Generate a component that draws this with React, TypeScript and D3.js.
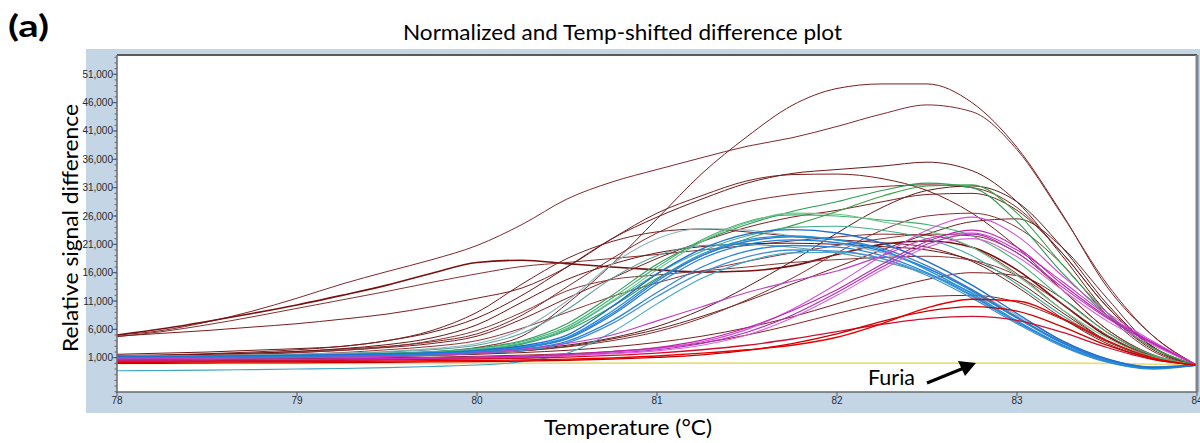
import React from "react";
import * as d3 from "d3";

// ---------- data (signal values in thousands) ----------
const temperatures = [78, 78.25, 78.5, 78.75, 79, 79.25, 79.5, 79.75, 80, 80.25, 80.5, 80.75, 81, 81.25, 81.5, 81.75, 82, 82.25, 82.5, 82.75, 83, 83.25, 83.5, 83.75, 84];
const xTickValues = [78, 79, 80, 81, 82, 83, 84];
const yTickValues = [1000, 6000, 11000, 16000, 21000, 26000, 31000, 36000, 41000, 46000, 51000];

const furia = [0, 0, 0, 0, 0, 0, 0, 0, 0, 0, 0.05, 0.05, 0.05, 0.05, 0.05, 0.05, 0.05, 0.05, 0.05, 0.05, 0.05, 0.05, 0, -0.15, -0.3];

const brown01 = [1.0, 1.05, 1.1, 1.2, 1.3, 1.4, 1.6, 2.0, 2.8, 4.8, 10.5, 17.5, 25.5, 33.5, 40.0, 45.5, 48.5, 49.3, 49.3, 46.0, 38.1, 26.4, 13.5, 5.0, -0.3];
const brown02 = [5.0, 5.8, 7.3, 9.2, 11.5, 14.0, 16.2, 18.3, 20.8, 24.5, 29.0, 32.0, 34.2, 36.3, 38.3, 39.8, 41.8, 44.0, 45.6, 44.4, 37.7, 26.2, 14.0, 5.0, -0.3];
const brown03 = [5.0, 6.1, 7.4, 8.8, 10.3, 12.0, 13.8, 15.9, 17.8, 18.2, 17.6, 17.0, 16.5, 16.1, 16.3, 17.2, 19.2, 21.0, 21.6, 20.5, 16.5, 10.5, 4.8, 1.2, -0.3];
const brown04 = [4.7, 5.6, 6.8, 8.2, 9.7, 11.2, 12.7, 14.3, 15.8, 17.1, 17.8, 18.5, 19.2, 20.0, 20.8, 21.6, 22.3, 22.8, 22.6, 20.5, 15.8, 9.5, 4.0, 1.0, -0.3];
const brown05 = [4.8, 5.3, 5.8, 6.4, 7.0, 7.8, 8.7, 10.0, 11.5, 13.3, 17.0, 22.0, 26.5, 29.6, 32.2, 33.3, 33.4, 32.6, 30.5, 26.5, 20.5, 13.0, 6.0, 1.5, -0.3];
const brown06 = [1.6, 1.8, 2.0, 2.3, 2.6, 3.0, 4.0, 5.5, 8.0, 12.0, 17.0, 22.0, 25.8, 29.0, 31.8, 33.5, 34.2, 34.8, 35.5, 34.0, 28.5, 19.0, 9.0, 2.5, -0.3];
const brown07 = [1.3, 1.4, 1.6, 1.8, 2.1, 2.5, 3.0, 3.8, 5.2, 8.5, 13.5, 18.5, 23.0, 26.3, 28.5, 29.8, 30.6, 31.2, 31.5, 31.0, 27.5, 19.5, 10.0, 3.0, -0.3];
const brown08 = [1.2, 1.3, 1.4, 1.6, 1.9, 2.3, 2.8, 3.5, 4.8, 7.8, 11.5, 15.0, 18.5, 21.5, 24.0, 25.8, 27.0, 28.5, 29.8, 30.0, 27.0, 19.5, 10.0, 3.0, -0.3];
const brown09 = [1.1, 1.2, 1.3, 1.4, 1.6, 1.9, 2.4, 3.0, 4.0, 6.2, 9.0, 11.8, 14.2, 16.3, 18.0, 19.5, 20.8, 22.0, 22.8, 22.5, 19.5, 13.0, 6.0, 1.6, -0.3];
const brown10 = [1.4, 1.5, 1.7, 2.0, 2.4, 3.0, 4.0, 5.8, 9.0, 14.0, 18.5, 21.5, 23.2, 23.7, 23.2, 22.4, 21.8, 21.3, 20.5, 18.0, 13.5, 8.0, 3.5, 0.9, -0.3];
const brown11 = [1.3, 1.4, 1.6, 1.8, 2.1, 2.6, 3.3, 4.5, 6.8, 10.8, 14.8, 17.5, 19.5, 20.6, 21.1, 21.2, 21.0, 20.6, 20.0, 18.2, 14.5, 9.0, 4.0, 1.0, -0.3];
const brown12 = [1.2, 1.3, 1.4, 1.6, 1.9, 2.3, 2.9, 4.0, 5.8, 9.0, 12.8, 14.8, 15.6, 16.3, 17.0, 17.8, 18.3, 18.7, 18.9, 18.2, 15.5, 10.5, 5.0, 1.3, -0.3];
const brown13 = [0.9, 0.95, 1.0, 1.05, 1.1, 1.2, 1.3, 1.4, 1.6, 1.9, 2.3, 2.9, 3.7, 4.8, 6.3, 8.2, 10.5, 12.8, 14.8, 16.0, 15.5, 11.5, 5.5, 1.4, -0.3];
const brown14 = [0.8, 0.85, 0.9, 0.95, 1.0, 1.1, 1.2, 1.4, 1.7, 2.2, 3.0, 4.3, 6.0, 8.3, 11.0, 14.0, 17.0, 20.0, 22.8, 25.0, 25.5, 20.5, 11.5, 3.0, -0.3];
const brown15 = [1.0, 1.0, 1.1, 1.1, 1.2, 1.3, 1.4, 1.6, 1.9, 2.4, 3.2, 4.5, 6.5, 9.5, 13.5, 18.0, 23.0, 27.5, 30.5, 31.3, 28.5, 20.5, 10.5, 3.0, -0.3];
const brown16 = [0.9, 0.9, 1.0, 1.0, 1.1, 1.2, 1.3, 1.5, 1.8, 2.2, 2.9, 4.0, 5.6, 8.0, 11.2, 15.0, 19.5, 23.5, 26.0, 26.5, 24.0, 17.5, 8.5, 2.2, -0.3];
const brown17 = [0.7, 0.7, 0.75, 0.8, 0.85, 0.9, 1.0, 1.1, 1.25, 1.45, 1.7, 2.1, 2.7, 3.6, 5.0, 6.8, 8.8, 10.6, 11.8, 12.0, 10.8, 7.8, 3.8, 1.0, -0.3];

const green01 = [1.2, 1.25, 1.3, 1.35, 1.45, 1.6, 1.8, 2.1, 2.7, 4.0, 7.0, 12.0, 17.5, 21.5, 24.5, 26.8, 28.5, 30.5, 31.8, 31.0, 25.0, 16.0, 8.5, 2.8, -0.3];
const green02 = [1.1, 1.15, 1.2, 1.3, 1.4, 1.55, 1.75, 2.05, 2.6, 3.8, 6.5, 11.5, 17.0, 21.8, 25.0, 26.2, 26.0, 25.3, 24.5, 22.5, 18.0, 11.5, 5.5, 1.5, -0.3];
const green03 = [1.0, 1.05, 1.1, 1.2, 1.3, 1.45, 1.65, 1.95, 2.5, 3.6, 6.2, 11.0, 16.5, 21.5, 24.8, 26.5, 26.3, 25.0, 23.5, 20.5, 15.5, 9.5, 4.5, 1.2, -0.3];
const green04 = [0.9, 0.95, 1.0, 1.05, 1.15, 1.3, 1.5, 1.8, 2.3, 3.4, 5.8, 10.0, 15.0, 19.0, 22.0, 24.3, 26.8, 29.5, 31.3, 31.5, 26.5, 17.5, 9.0, 2.8, -0.3];
const green05 = [1.0, 1.05, 1.1, 1.2, 1.3, 1.4, 1.6, 1.9, 2.4, 3.5, 6.0, 10.8, 15.8, 19.8, 22.5, 24.0, 24.2, 23.5, 22.0, 19.0, 14.0, 8.5, 4.0, 1.0, -0.3];

const teal01 = [1.3, 1.35, 1.4, 1.5, 1.6, 1.8, 2.1, 2.6, 3.5, 6.0, 11.0, 17.5, 22.0, 23.8, 23.5, 22.5, 21.2, 19.5, 16.8, 13.0, 8.5, 4.0, 0.8, -0.6, -0.3];
const teal02 = [1.2, 1.25, 1.3, 1.4, 1.5, 1.7, 2.0, 2.4, 3.2, 5.3, 9.5, 15.0, 19.0, 20.8, 21.0, 20.5, 19.5, 18.0, 15.8, 12.5, 8.0, 3.8, 0.7, -0.6, -0.3];

const blue01 = [1.2, 1.25, 1.3, 1.35, 1.45, 1.55, 1.7, 1.9, 2.3, 3.1, 5.0, 10.0, 15.8, 20.2, 22.8, 23.6, 23.0, 21.2, 18.0, 13.8, 8.8, 4.0, 0.8, -0.7, -0.3];
const blue02 = [1.0, 1.05, 1.1, 1.15, 1.25, 1.35, 1.5, 1.7, 2.0, 2.7, 4.3, 8.5, 14.0, 18.5, 21.0, 21.8, 21.3, 19.8, 16.8, 12.8, 8.0, 3.6, 0.5, -0.8, -0.3];
const blue03 = [0.9, 0.95, 1.0, 1.05, 1.15, 1.25, 1.4, 1.6, 1.9, 2.5, 3.9, 7.5, 12.5, 17.0, 19.8, 20.8, 20.5, 19.0, 16.0, 12.0, 7.3, 3.2, 0.3, -0.9, -0.3];
const blue04 = [1.1, 1.15, 1.2, 1.25, 1.35, 1.45, 1.6, 1.8, 2.2, 2.9, 4.6, 9.2, 14.8, 19.3, 21.8, 22.5, 21.8, 20.0, 16.5, 12.3, 7.5, 3.3, 0.4, -0.8, -0.3];
const blue05 = [0.8, 0.85, 0.9, 0.95, 1.0, 1.1, 1.25, 1.45, 1.75, 2.3, 3.6, 7.0, 11.8, 16.0, 18.8, 20.0, 19.8, 18.5, 15.5, 11.5, 7.0, 3.0, 0.2, -1.0, -0.3];
const blue06 = [1.0, 1.05, 1.1, 1.15, 1.25, 1.35, 1.5, 1.7, 2.1, 2.8, 4.4, 8.8, 14.5, 19.0, 21.5, 22.3, 21.8, 20.3, 17.2, 13.0, 8.2, 3.7, 0.6, -0.7, -0.3];
const blue07 = [-1.3, -1.25, -1.2, -1.1, -1.0, -0.9, -0.75, -0.55, -0.3, 0.3, 1.8, 5.5, 10.5, 15.0, 18.0, 19.5, 19.6, 18.5, 15.8, 11.8, 7.2, 3.2, 0.3, -0.9, -0.3];

const magenta01 = [0.8, 0.85, 0.9, 0.95, 1.0, 1.1, 1.2, 1.4, 1.8, 2.5, 3.5, 5.0, 7.5, 10.0, 12.5, 14.5, 16.3, 19.0, 22.0, 23.0, 20.0, 14.5, 8.5, 3.8, -0.3];
const magenta02 = [0.5, 0.5, 0.55, 0.6, 0.65, 0.7, 0.8, 0.9, 1.0, 1.2, 1.5, 2.0, 2.6, 3.8, 6.0, 9.5, 14.0, 19.0, 23.5, 25.8, 22.5, 15.5, 9.0, 4.0, -0.3];
const magenta03 = [0.4, 0.4, 0.45, 0.5, 0.55, 0.6, 0.7, 0.8, 0.9, 1.1, 1.4, 1.8, 2.4, 3.5, 5.5, 8.5, 12.5, 17.0, 21.0, 22.8, 19.5, 13.5, 8.0, 3.5, -0.3];
const magenta04 = [0.3, 0.3, 0.35, 0.4, 0.45, 0.5, 0.6, 0.7, 0.8, 1.0, 1.3, 1.7, 2.2, 3.2, 5.0, 8.0, 12.0, 16.5, 20.5, 22.0, 18.8, 13.0, 7.5, 3.3, -0.3];
const magenta05 = [0.6, 0.6, 0.65, 0.7, 0.75, 0.8, 0.9, 1.0, 1.1, 1.3, 1.6, 2.1, 2.8, 4.1, 6.3, 9.3, 13.0, 17.5, 21.5, 23.5, 20.5, 14.0, 8.2, 3.7, -0.3];

const red01 = [0.2, 0.2, 0.25, 0.3, 0.3, 0.35, 0.4, 0.45, 0.5, 0.6, 0.75, 0.95, 1.3, 1.8, 2.4, 3.2, 4.6, 7.0, 9.8, 11.3, 11.0, 8.0, 4.0, 1.0, -0.3];
const red02 = [0.0, 0.0, 0.05, 0.1, 0.1, 0.15, 0.2, 0.25, 0.3, 0.4, 0.55, 0.75, 1.05, 1.5, 2.3, 3.5, 5.2, 7.4, 9.2, 10.0, 9.2, 6.5, 3.2, 0.8, -0.3];
const red03 = [0.4, 0.4, 0.45, 0.5, 0.5, 0.55, 0.6, 0.7, 0.8, 0.9, 1.1, 1.4, 1.8, 2.4, 3.2, 4.3, 5.6, 6.9, 7.9, 8.3, 7.6, 5.5, 2.8, 0.7, -0.3];

// draw order table built from the arrays above
const seriesTable = [
  { values: furia, color: "#e9df7a", width: 1.6 },
  { values: brown01, color: "#7a1f1f", width: 1 },
  { values: brown02, color: "#80292b", width: 1 },
  { values: brown03, color: "#7a0f0f", width: 1.6 },
  { values: brown04, color: "#8a3030", width: 1 },
  { values: brown05, color: "#7a1f1f", width: 1 },
  { values: brown06, color: "#6e1818", width: 1 },
  { values: brown07, color: "#852828", width: 1 },
  { values: brown08, color: "#7a1f1f", width: 1 },
  { values: brown09, color: "#8e3636", width: 1 },
  { values: brown10, color: "#7a1f1f", width: 1 },
  { values: brown11, color: "#6b1515", width: 1 },
  { values: brown12, color: "#8a3434", width: 1 },
  { values: brown13, color: "#7a1f1f", width: 1 },
  { values: brown14, color: "#6f2020", width: 1 },
  { values: brown15, color: "#5e1a1a", width: 1 },
  { values: brown16, color: "#843030", width: 1 },
  { values: brown17, color: "#8b2020", width: 1 },
  { values: green01, color: "#2e9b57", width: 1.1 },
  { values: green02, color: "#3cb371", width: 1.1 },
  { values: green03, color: "#6cc48a", width: 1.1 },
  { values: green04, color: "#3aa048", width: 1.1 },
  { values: green05, color: "#3fae95", width: 1.1 },
  { values: teal01, color: "#8fb3b8", width: 1.1 },
  { values: teal02, color: "#5f9ea0", width: 1.1 },
  { values: blue07, color: "#3fa6c6", width: 1.1 },
  { values: blue05, color: "#4a8fd8", width: 1.3 },
  { values: blue03, color: "#2b86d8", width: 1.3 },
  { values: blue02, color: "#1f7fe0", width: 1.3 },
  { values: blue06, color: "#3a78c8", width: 1.3 },
  { values: blue04, color: "#1c92dc", width: 1.3 },
  { values: blue01, color: "#1e6fd0", width: 1.4 },
  { values: magenta01, color: "#c23cc2", width: 1.1 },
  { values: magenta02, color: "#d24fd8", width: 1.1 },
  { values: magenta03, color: "#b030c0", width: 1.1 },
  { values: magenta04, color: "#dd60dd", width: 1.1 },
  { values: magenta05, color: "#c020b0", width: 1.1 },
  { values: red03, color: "#d01030", width: 1.3 },
  { values: red02, color: "#c80000", width: 1.3 },
  { values: red01, color: "#e80000", width: 1.4 },
];

const W = 1200;
const H = 443;
const P = { left: 117, right: 1197, top: 55, bottom: 392 };

export default function App() {
  const x = d3.scaleLinear().domain([78, 84]).range([P.left, P.right]);
  const y = d3.scaleLinear().domain([-5051, 54405]).range([P.bottom, P.top]);
  const line = d3
    .line<number>()
    .x((_, i) => x(temperatures[i]))
    .y((d) => y(d * 1000))
    .curve(d3.curveMonotoneX);
  const fmt = d3.format(",");
  const minorTicks = d3.range(-5000, 54001, 1000);

  const calibri = "Lato, 'Open Sans', sans-serif";

  return (
    <div style={{ position: "absolute", left: 0, top: 0 }}>
      <svg width={W} height={H} style={{ display: "block", background: "#fff" }}>
        <defs>
          <clipPath id="plotclip">
            <rect x={P.left} y={P.top} width={P.right - P.left} height={P.bottom - P.top} />
          </clipPath>
        </defs>
        <text x={8} y={37} fontFamily={calibri} fontWeight={700} fontSize={30} textLength={41} lengthAdjust="spacingAndGlyphs" fill="#000">
          (a)
        </text>
        <text x={622.5} y={40} textAnchor="middle" fontFamily={calibri} fontSize={20.5} textLength={439} lengthAdjust="spacingAndGlyphs" fill="#000">
          Normalized and Temp-shifted difference plot
        </text>

        <rect x={86} y={49} width={W - 86} height={413 - 49} fill="#c4d5e6" />
        <rect x={P.left} y={P.top} width={P.right - P.left} height={P.bottom - P.top} fill="#fff" />

        <g clipPath="url(#plotclip)">
          {seriesTable.map((s, i) => (
            <path key={i} d={line(s.values) || ""} fill="none" stroke={s.color} strokeWidth={s.width} strokeLinejoin="round" />
          ))}
        </g>

        {/* frame */}
        <line x1={P.left} x2={P.right} y1={P.top} y2={P.top} stroke="#5a5a5a" strokeWidth={2} />
        <line x1={P.right} x2={P.right} y1={P.top} y2={P.bottom} stroke="#7d848c" strokeWidth={3} />
        <line x1={P.left} x2={P.left} y1={P.top} y2={P.bottom + 1} stroke="#6a6a6a" strokeWidth={1.5} />
        <line x1={P.left} x2={P.right} y1={P.bottom} y2={P.bottom} stroke="#6a6a6a" strokeWidth={1.5} />

        {/* y ticks */}
        {minorTicks.map((t) => (
          <line key={"m" + t} x1={P.left - 2.5} x2={P.left} y1={y(t)} y2={y(t)} stroke="#6a6a6a" strokeWidth={1} />
        ))}
        {yTickValues.map((t) => (
          <g key={"y" + t}>
            <line x1={P.left - 4.5} x2={P.left} y1={y(t)} y2={y(t)} stroke="#555" strokeWidth={1} />
            <text x={P.left - 4} y={y(t)} dy="0.35em" textAnchor="end" fontFamily="'Liberation Sans', Arial, sans-serif" fontSize={10} fill="#2a2a2a">
              {fmt(t)}
            </text>
          </g>
        ))}

        {/* x ticks */}
        {xTickValues.map((t) => (
          <g key={"x" + t}>
            <line x1={x(t)} x2={x(t)} y1={P.bottom} y2={P.bottom + 4} stroke="#555" strokeWidth={1} />
            <text x={x(t)} y={404} textAnchor="middle" fontFamily="'Liberation Sans', Arial, sans-serif" fontSize={10} fill="#2a2a2a">
              {t}
            </text>
          </g>
        ))}

        {/* axis titles */}
        <text
          transform={`translate(78, 228) rotate(-90)`}
          textAnchor="middle"
          fontFamily={calibri}
          fontSize={21}
          textLength={248}
          lengthAdjust="spacingAndGlyphs"
          fill="#000"
        >
          Relative signal difference
        </text>
        <text x={628} y={435} textAnchor="middle" fontFamily={calibri} fontSize={21} textLength={168} lengthAdjust="spacingAndGlyphs" fill="#000">
          Temperature (°C)
        </text>

        {/* annotation */}
        <text x={868} y={385} fontFamily={calibri} fontSize={22} textLength={47} lengthAdjust="spacingAndGlyphs" fill="#000">
          Furia
        </text>
        <line x1={927} y1={383} x2={964} y2={368} stroke="#000" strokeWidth={3} />
        <polygon points="976,363 958,361 965,376" fill="#000" />
      </svg>
    </div>
  );
}
